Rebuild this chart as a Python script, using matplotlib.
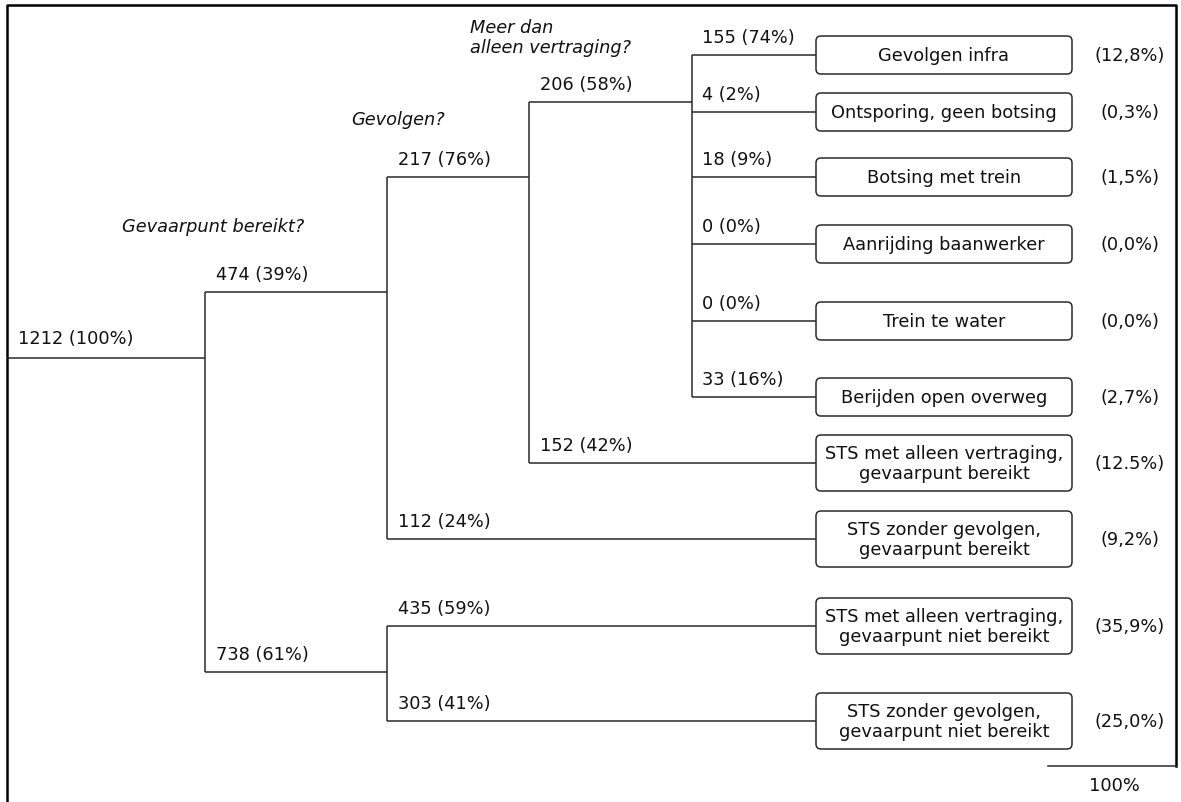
import matplotlib.pyplot as plt
from matplotlib.patches import FancyBboxPatch

#### DATA ####
n_totaal = 1212
# Gevaarpunt bereikt? ja / nee
n_gevaar = [474, 738]
pct_gevaar = [39, 61]
# Gevolgen? ja / nee (gevaarpunt bereikt)
n_gevolgen = [217, 112]
pct_gevolgen = [76, 24]
# Meer dan alleen vertraging? ja / nee
n_meer = [206, 152]
pct_meer = [58, 42]
# soorten gevolgen
n_soort = [155, 4, 18, 0, 0, 33]
pct_soort = [74, 2, 9, 0, 0, 16]
# gevaarpunt niet bereikt: vertraging / zonder gevolgen
n_niet = [435, 303]
pct_niet = [59, 41]

uitkomsten = ["Gevolgen infra", "Ontsporing, geen botsing", "Botsing met trein",
              "Aanrijding baanwerker", "Trein te water", "Berijden open overweg",
              "STS met alleen vertraging,\ngevaarpunt bereikt",
              "STS zonder gevolgen,\ngevaarpunt bereikt",
              "STS met alleen vertraging,\ngevaarpunt niet bereikt",
              "STS zonder gevolgen,\ngevaarpunt niet bereikt"]
aandeel = ["(12,8%)", "(0,3%)", "(1,5%)", "(0,0%)", "(0,0%)", "(2,7%)",
           "(12.5%)", "(9,2%)", "(35,9%)", "(25,0%)"]

vragen = ["Gevaarpunt bereikt?", "Gevolgen?", "Meer dan\nalleen vertraging?"]

#### LAYOUT (pixels) ####
x_split = [205, 387, 529, 692]
box_x0, box_x1 = 816, 1072
y_root = 359
y_gevaar = [293, 673]
y_gevolgen = [178, 540]
y_meer = [103, 464]
y_soort = [56, 113, 178, 245, 322, 398]
y_niet = [627, 722]

lijn = '#2a2a2a'
tekst = '#111111'
fs = 12.8

fig = plt.figure(figsize=(11.81, 8.03), dpi=100)
ax = fig.add_axes([0, 0, 1, 1])
ax.set_xlim(0, 1181)
ax.set_ylim(803, 0)
ax.axis('off')

def label(x, y, n, p):
    ax.text(x + 11, y - 18, f"{n} ({p}%)", fontsize=fs, color=tekst, ha='left', va='center')

def hline(x0, x1, y):
    ax.plot([x0, x1], [y, y], color=lijn, lw=1.1, solid_capstyle='butt')

def vline(x, y0, y1):
    ax.plot([x, x], [y0, y1], color=lijn, lw=1.1, solid_capstyle='butt')

# kader
ax.plot([7, 7, 1176, 1176], [803, 6, 6, 767], color='black', lw=1.8)

# wortel
hline(7, x_split[0], y_root)
ax.text(18, y_root - 20, f"{n_totaal} (100%)", fontsize=fs, color=tekst, ha='left', va='center')

# niveau 1
vline(x_split[0], y_gevaar[0], y_gevaar[1])
for y, n, p in zip(y_gevaar, n_gevaar, pct_gevaar):
    hline(x_split[0], x_split[1], y)
    label(x_split[0], y, n, p)

# niveau 2 (gevaarpunt bereikt)
vline(x_split[1], y_gevolgen[0], y_gevolgen[1])
hline(x_split[1], x_split[2], y_gevolgen[0])
hline(x_split[1], box_x0, y_gevolgen[1])
for y, n, p in zip(y_gevolgen, n_gevolgen, pct_gevolgen):
    label(x_split[1], y, n, p)

# niveau 2 (niet bereikt)
vline(x_split[1], y_niet[0], y_niet[1])
for y, n, p in zip(y_niet, n_niet, pct_niet):
    hline(x_split[1], box_x0, y)
    label(x_split[1], y, n, p)

# niveau 3
vline(x_split[2], y_meer[0], y_meer[1])
hline(x_split[2], x_split[3], y_meer[0])
hline(x_split[2], box_x0, y_meer[1])
for y, n, p in zip(y_meer, n_meer, pct_meer):
    label(x_split[2], y, n, p)

# niveau 4
vline(x_split[3], y_soort[0], y_soort[-1])
for y, n, p in zip(y_soort, n_soort, pct_soort):
    hline(x_split[3], box_x0, y)
    label(x_split[3] - 1, y, n, p)

# vragen
ax.text(122, 227, vragen[0], fontsize=fs, style='italic', color=tekst, ha='left', va='center')
ax.text(351, 120, vragen[1], fontsize=fs, style='italic', color=tekst, ha='left', va='center')
ax.text(470, 38, vragen[2], fontsize=fs, style='italic', color=tekst, ha='left', va='center',
        linespacing=1.18)

# uitkomst-boxen
y_box = y_soort + [y_meer[1], y_gevolgen[1]] + y_niet
for y, naam, a in zip(y_box, uitkomsten, aandeel):
    h = 56 if '\n' in naam else 38
    box = FancyBboxPatch((box_x0, y - h / 2), box_x1 - box_x0, h,
                         boxstyle="round,pad=0,rounding_size=5",
                         fc='white', ec=lijn, lw=1.1)
    ax.add_patch(box)
    ax.text((box_x0 + box_x1) / 2, y, naam, fontsize=fs, color=tekst, ha='center', va='center',
            linespacing=1.18)
    ax.text(1130, y, a, fontsize=fs, color=tekst, ha='center', va='center')

# totaal
ax.plot([1048, 1176], [767, 767], color=lijn, lw=1.1)
ax.text(1114, 786, "100%", fontsize=fs, color=tekst, ha='center', va='center')

fig.savefig("out.png", dpi=100)
